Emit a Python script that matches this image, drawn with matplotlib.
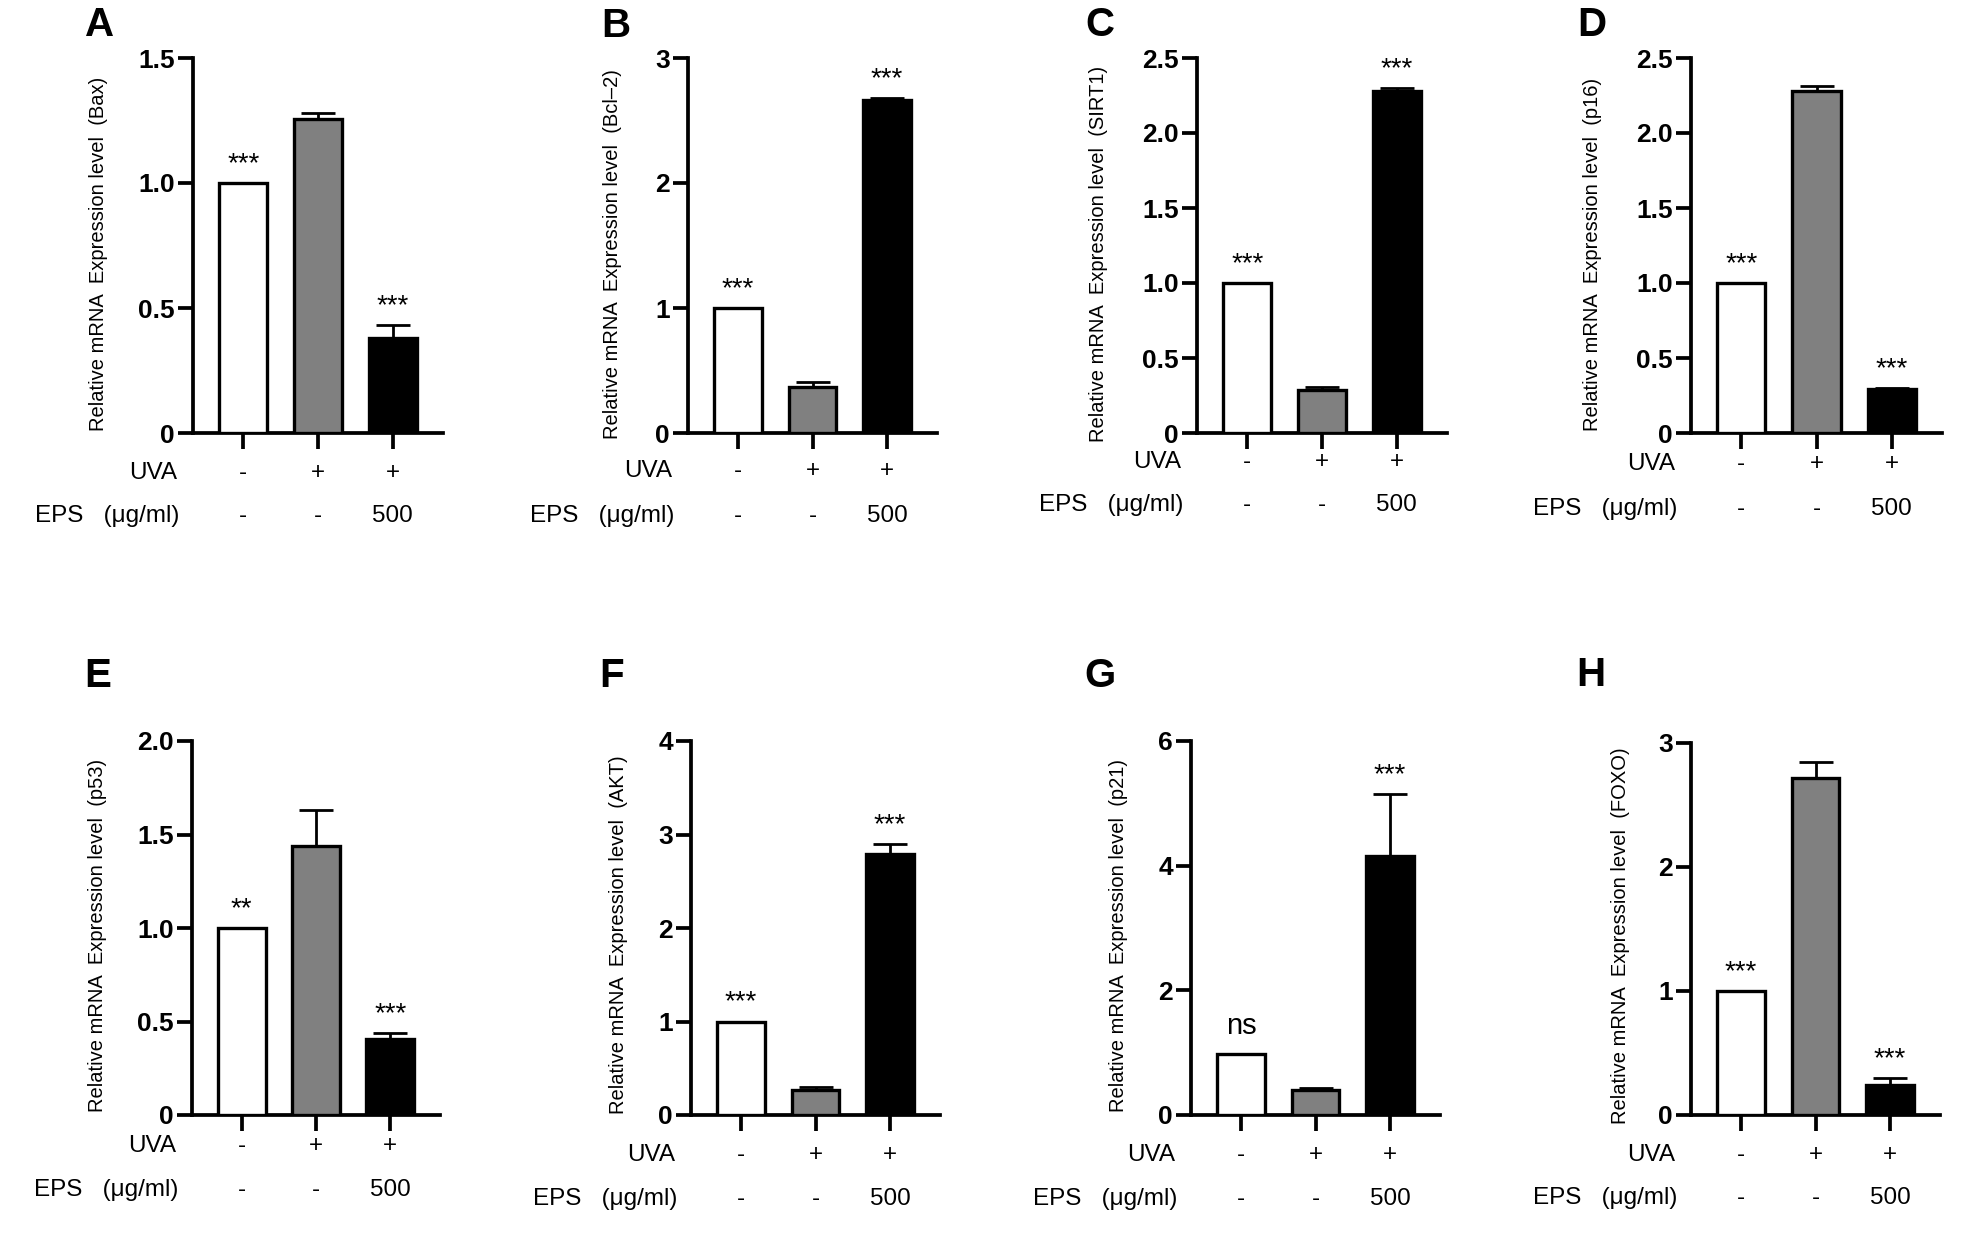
import matplotlib
matplotlib.use("Agg")
import matplotlib.pyplot as plt

plt.rcParams['font.family'] = ['Liberation Sans', 'DejaVu Sans']

# ---------------- data ----------------
letters = ["A", "B", "C", "D", "E", "F", "G", "H"]
genes = ["Bax", "Bcl–2", "SIRT1", "p16", "p53", "AKT", "p21", "FOXO"]
uva_row = ["-", "+", "+"]
eps_row = ["-", "-", "500"]

means_A = [1.0, 1.256, 0.382]
means_B = [1.0, 0.366, 2.666]
means_C = [1.0, 0.286, 2.281]
means_D = [1.0, 2.28, 0.293]
means_E = [1.0, 1.44, 0.406]
means_F = [1.0, 0.263, 2.794]
means_G = [0.98, 0.40, 4.15]
means_H = [1.0, 2.72, 0.24]

err_A = [0.0, 0.026, 0.05]
err_B = [0.0, 0.043, 0.014]
err_C = [0.0, 0.019, 0.017]
err_D = [0.0, 0.031, 0.007]
err_E = [0.0, 0.19, 0.034]
err_F = [0.0, 0.033, 0.10]
err_G = [0.0, 0.04, 1.0]
err_H = [0.0, 0.13, 0.057]

sig_A = ["***", "", "***"]
sig_B = ["***", "", "***"]
sig_C = ["***", "", "***"]
sig_D = ["***", "", "***"]
sig_E = ["**", "", "***"]
sig_F = ["***", "", "***"]
sig_G = ["ns", "", "***"]
sig_H = ["***", "", "***"]

yticks_A = [0, 0.5, 1.0, 1.5]
yticks_B = [0, 1, 2, 3]
yticks_C = [0, 0.5, 1.0, 1.5, 2.0, 2.5]
yticks_D = [0, 0.5, 1.0, 1.5, 2.0, 2.5]
yticks_E = [0, 0.5, 1.0, 1.5, 2.0]
yticks_F = [0, 1, 2, 3, 4]
yticks_G = [0, 2, 4, 6]
yticks_H = [0, 1, 2, 3]

ytlabels_A = ["0", "0.5", "1.0", "1.5"]
ytlabels_B = ["0", "1", "2", "3"]
ytlabels_C = ["0", "0.5", "1.0", "1.5", "2.0", "2.5"]
ytlabels_D = ["0", "0.5", "1.0", "1.5", "2.0", "2.5"]
ytlabels_E = ["0", "0.5", "1.0", "1.5", "2.0"]
ytlabels_F = ["0", "1", "2", "3", "4"]
ytlabels_G = ["0", "2", "4", "6"]
ytlabels_H = ["0", "1", "2", "3"]

means = [means_A, means_B, means_C, means_D, means_E, means_F, means_G, means_H]
errs = [err_A, err_B, err_C, err_D, err_E, err_F, err_G, err_H]
sigs = [sig_A, sig_B, sig_C, sig_D, sig_E, sig_F, sig_G, sig_H]
yticks = [yticks_A, yticks_B, yticks_C, yticks_D, yticks_E, yticks_F, yticks_G, yticks_H]
ytlabels = [ytlabels_A, ytlabels_B, ytlabels_C, ytlabels_D, ytlabels_E, ytlabels_F, ytlabels_G, ytlabels_H]

# ---------------- layout (pixels) ----------------
W, H = 1961, 1241
# (x of y-axis, y of top tick, x of right end of x-axis, y of zero line)
axes_px = [(193, 58, 443, 433), (688, 58, 937, 433), (1197, 58, 1447, 433), (1691, 58, 1942, 433),
           (192, 741, 440, 1115), (691, 741, 940, 1115), (1191, 741, 1440, 1115), (1691, 743, 1940, 1115)]
letter_px = [(100, 25), (616, 26), (1100, 25), (1592, 25),
             (98, 676), (612, 676), (1100, 676), (1591, 675)]
ylabel_px = [(99, 254), (613, 254), (1098, 254), (1593, 254),
             (98, 935), (618, 935), (1118, 935), (1620, 936)]
row_off = [(40, 83), (38, 83), (29, 72), (31, 76), (31, 75), (40, 84), (40, 84), (40, 83)]

colors = ["white", "#808080", "black"]
LW = 2.7
ROWFS = 17.5

fig = plt.figure(figsize=(W / 100, H / 100), dpi=100)

for k in range(8):
    xl, yt, xr, yz = axes_px[k]
    ax = fig.add_axes([xl / W, 1 - yz / H, (xr - xl) / W, (yz - yt) / H])
    x = [0, 1, 2]
    ax.bar(x, means[k], width=0.64, color=colors, edgecolor="black", linewidth=2.4, zorder=3)
    ax.errorbar(x, means[k], yerr=[[0, 0, 0], errs[k]], fmt="none", ecolor="black",
                elinewidth=2.0, capsize=12, capthick=2.0, zorder=2)
    ax.set_xlim(-0.67, 2.67)
    ax.set_ylim(0, yticks[k][-1])
    ax.set_yticks(yticks[k])
    ax.set_yticklabels(ytlabels[k], fontsize=19, fontweight="bold")
    ax.set_xticks(x)
    ax.set_xticklabels([])
    ax.tick_params(axis="y", direction="out", length=11, width=LW, pad=2)
    ax.tick_params(axis="x", direction="out", length=11.5, width=LW)
    for s in ["top", "right"]:
        ax.spines[s].set_visible(False)
    for s in ["left", "bottom"]:
        ax.spines[s].set_linewidth(LW)
        ax.spines[s].set_capstyle("projecting")
    ax.patch.set_visible(False)

    # significance labels
    for i in range(3):
        lab = sigs[k][i]
        if not lab:
            continue
        top = means[k][i] + errs[k][i]
        if lab == "ns":
            ax.annotate(lab, xy=(i, top), xytext=(0, 20), textcoords="offset pixels",
                        ha="center", va="baseline", fontsize=21)
        else:
            ax.annotate(lab, xy=(i, top), xytext=(0, 12), textcoords="offset pixels",
                        ha="center", va="baseline", fontsize=20)

    # treatment rows
    d1, d2 = row_off[k]
    for i in range(3):
        ax.annotate(uva_row[i], xy=(i, 0), xycoords=("data", "axes fraction"),
                    xytext=(0, -d1), textcoords="offset pixels", ha="center", va="center", fontsize=ROWFS)
        ax.annotate(eps_row[i], xy=(i, 0), xycoords=("data", "axes fraction"),
                    xytext=(0, -d2), textcoords="offset pixels", ha="center", va="center", fontsize=ROWFS)
    ax.annotate("UVA", xy=(0, 0), xycoords="axes fraction", xytext=(-16, -d1),
                textcoords="offset pixels", ha="right", va="center", fontsize=ROWFS)
    ax.annotate("EPS   (μg/ml)", xy=(0, 0), xycoords="axes fraction", xytext=(-14, -d2),
                textcoords="offset pixels", ha="right", va="center", fontsize=ROWFS)

    # y label
    lx, ly = ylabel_px[k]
    fig.text(lx / W, 1 - ly / H, "Relative mRNA  Expression level  (" + genes[k] + ")",
             rotation=90, ha="center", va="center", fontsize=14.5)

    # panel letter
    px, py = letter_px[k]
    fig.text(px / W, 1 - py / H, letters[k], ha="center", va="center", fontsize=29, fontweight="bold")

fig.savefig("out.png", dpi=100, facecolor="white")
